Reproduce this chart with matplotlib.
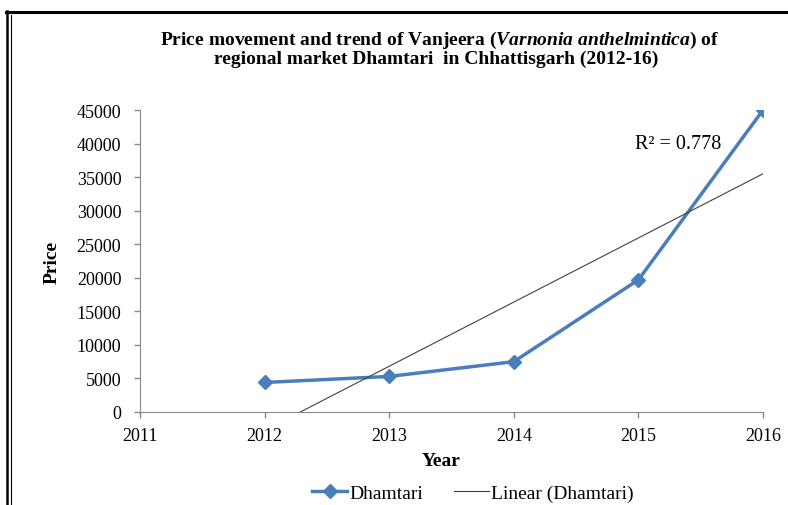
import numpy as np
import matplotlib.pyplot as plt
from matplotlib.lines import Line2D

plt.rcParams['font.family'] = ['Liberation Serif', 'DejaVu Serif']
plt.rcParams['mathtext.fontset'] = 'custom'
plt.rcParams['mathtext.it'] = 'Liberation Serif:italic:bold'
plt.rcParams['mathtext.rm'] = 'Liberation Serif:bold'

# Data
years = [2012, 2013, 2014, 2015, 2016]
price = [4400, 5300, 7500, 19700, 45000]
yticks = [0, 5000, 10000, 15000, 20000, 25000, 30000, 35000, 40000, 45000]
xticks = [2011, 2012, 2013, 2014, 2015, 2016]

# Excel style linear trend (x = 1..n)
idx = np.arange(1, len(price) + 1)
slope, intercept = np.polyfit(idx, price, 1)
fit = slope * idx + intercept
r2 = 1 - np.sum((np.array(price) - fit) ** 2) / np.sum((np.array(price) - np.mean(price)) ** 2)
x0 = years[0] + (-intercept / slope - 1)  # where the trend crosses zero
xt = np.array([x0, years[-1]])
yt = slope * (xt - years[0] + 1) + intercept

fig = plt.figure(figsize=(7.88, 5.06), dpi=100)
ax = fig.add_axes([0.1777, 0.1838, 0.7906, 0.5968])

blue = '#4a7ebb'
ax.plot(years, price, color=blue, lw=2.5, marker='D', ms=7.5, label='Dhamtari')
ax.plot(xt, yt, color='#404040', lw=0.8, label='Linear (Dhamtari)')

ax.set_xlim(2011, 2016)
ax.set_ylim(0, 45000)
ax.set_xticks(xticks)
ax.set_yticks(yticks)
ax.tick_params(axis='both', labelsize=13, colors='#888888', labelcolor='black',
               length=4.5, width=1)
ax.tick_params(axis='x', pad=6)
ax.tick_params(axis='y', pad=9)
for s in ['top', 'right']:
    ax.spines[s].set_visible(False)
for s in ['left', 'bottom']:
    ax.spines[s].set_color('#888888')

ax.set_ylabel('Price', fontsize=14, fontweight='bold')
ax.yaxis.set_label_coords(-0.128, 0.5)
ax.text(0.483, -0.159, 'Year', transform=ax.transAxes, ha='center', va='center',
        fontsize=14, fontweight='bold')

ax.text(0.795, 0.888, 'R² = {:.3f}'.format(r2), transform=ax.transAxes,
        fontsize=14.5, va='center')

fig.text(0.558, 0.921, 'Price movement and trend of Vanjeera ($\\it{Varnonia\\ anthelmintica}$) of',
         ha='center', va='center', fontsize=14, fontweight='bold')
fig.text(0.553, 0.882, 'regional market Dhamtari  in Chhattisgarh (2012-16)',
         ha='center', va='center', fontsize=14, fontweight='bold')

fig.legend(loc='center', bbox_to_anchor=(0.600, 0.024), ncol=2, frameon=False,
           fontsize=14, handlelength=1.8, columnspacing=1.6, handletextpad=0.1)

# frame around the chart
fig.add_artist(Line2D([0.007, 1.0], [0.974, 0.974], color='black', lw=2.2, transform=fig.transFigure))
fig.add_artist(Line2D([0.009, 0.009], [0.0, 0.976], color='black', lw=1.8, transform=fig.transFigure))
fig.add_artist(Line2D([0.0135, 0.0135], [0.0, 0.968], color='black', lw=0.8, transform=fig.transFigure))

fig.savefig('out.png', dpi=100)
